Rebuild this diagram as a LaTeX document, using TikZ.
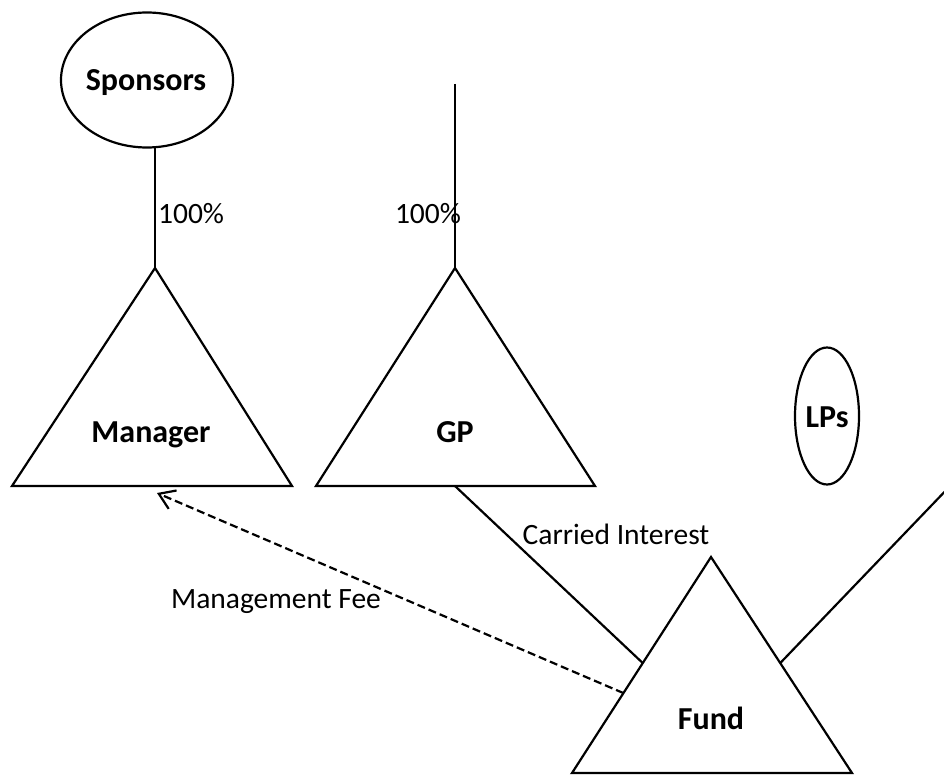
\documentclass[tikz,border=0pt]{standalone}
\usepackage{fontspec}
\setmainfont{Carlito}
\usetikzlibrary{arrows.meta,shapes.geometric,calc}
\begin{document}
\begin{tikzpicture}[x=1pt,y=-1pt,line width=2.2pt,
  lbl/.style={font=\fontsize{29.5}{33}\selectfont,inner sep=0pt,anchor=base},
  blbl/.style={font=\fontsize{32}{35}\selectfont\bfseries,inner sep=0pt,anchor=base},
  oval/.style={draw,ellipse,inner sep=0pt,line width=2.2pt},
  tri/.style={draw,line join=miter},
  conn/.style={draw},
  fee/.style={draw,dash pattern=on 8pt off 4pt,-{Straight Barb[length=15pt,width=20pt,line width=2.2pt]}}]
\useasboundingbox (0,0) rectangle (944,775);
\clip (0,0) rectangle (944,775);
% Sponsors
\node[oval,minimum width=172pt,minimum height=135pt] (sponsors) at (147,80) {};
\node[blbl] (sponsorslbl) at (146,91) {Sponsors};
\coordinate (spbot) at (155,147);
% Manager triangle
\coordinate (mgrtop) at (155,268);
\coordinate (mgrl) at (12,486);
\coordinate (mgrr) at (292,486);
\draw[tri] (mgrtop) -- (mgrr) -- (mgrl) -- cycle;
\node[blbl] (mgrlbl) at (151,442) {Manager};
% GP triangle
\coordinate (gptop) at (455,268);
\coordinate (gpl) at (316,486);
\coordinate (gpr) at (595,486);
\coordinate (gpbase) at (455,486);
\coordinate (gpline) at (455,84);
\draw[tri] (gptop) -- (gpr) -- (gpl) -- cycle;
\node[blbl] (gplbl) at (455,442) {GP};
% Fund triangle
\coordinate (fundtop) at (711,557);
\coordinate (fundl) at (572,773);
\coordinate (fundr) at (852,773);
\draw[tri] (fundtop) -- (fundr) -- (fundl) -- cycle;
\node[blbl] (fundlbl) at (711,729) {Fund};
% LPs
\node[oval,minimum width=64pt,minimum height=137pt] (lps) at (827,416) {};
\node[blbl] (lpslbl) at (827,427) {LPs};
% connectors
\draw[conn] (spbot) -- (mgrtop);
\draw[conn] (gpline) -- (gptop);
\coordinate (fundci) at ($(fundtop)!0.491!(fundl)$);
\coordinate (fundlp) at ($(fundtop)!0.491!(fundr)$);
\coordinate (fundfee) at ($(fundtop)!0.63!(fundl)$);
\coordinate (lpend) at (1000,434);
\coordinate (feetip) at (157,493);
\draw[conn] (gpbase) -- (fundci);
\draw[conn] (fundlp) -- (lpend);
\draw[fee] (fundfee) -- (feetip);
% labels
\node[lbl,anchor=base west] (pct1) at (157,224) {100\%};
\node[lbl] (pct2) at (428,224) {100\%};
\node[lbl] (cilbl) at (616,544) {Carried Interest};
\node[lbl] (feelbl) at (276,608) {Management Fee};
\end{tikzpicture}
\end{document}
